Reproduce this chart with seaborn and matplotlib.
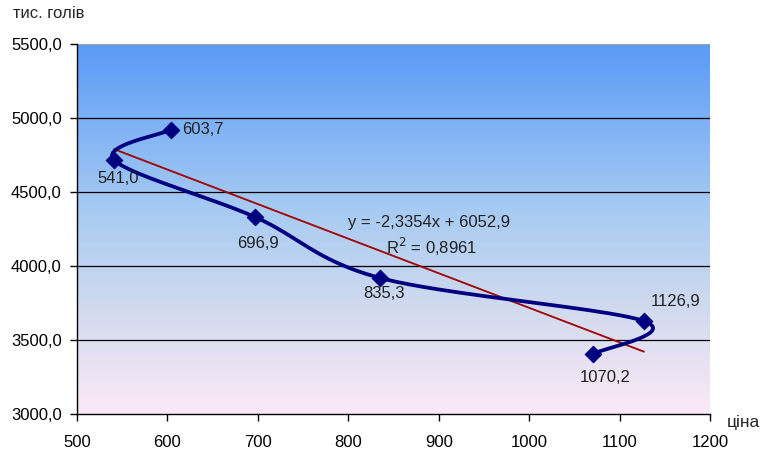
import numpy as np
import pandas as pd
import matplotlib
matplotlib.use("Agg")
import matplotlib.pyplot as plt
import seaborn as sns
from matplotlib.colors import LinearSegmentedColormap
from matplotlib.ticker import FuncFormatter, MultipleLocator

# ---- data ----
price = [603.7, 541.0, 696.9, 835.3, 1126.9, 1070.2]
herd = [4920.0, 4716.0, 4331.0, 3919.0, 3628.0, 3405.0]
point_labels = ["603,7", "541,0", "696,9", "835,3", "1126,9", "1070,2"]
trend_slope = -2.3354
trend_intercept = 6052.9
trend_r2 = 0.8961
y_label = "тис. голів"
x_label = "ціна"

df = pd.DataFrame({"price": price, "herd": herd, "label": point_labels})

sns.set_theme(style="white")
plt.rcParams["font.family"] = ["Liberation Sans", "DejaVu Sans"]
FS = 12

fig = plt.figure(figsize=(7.65, 4.55), dpi=100)
ax = fig.add_axes([77 / 765, 1 - 414 / 455, (710 - 77) / 765, (414 - 44) / 455])

ax.set_xlim(500, 1200)
ax.set_ylim(3000, 5500)

# gradient background
cmap = LinearSegmentedColormap.from_list(
    "bg", [(0.0, "#FCE9F7"), (0.25, "#D6DCEE"), (0.55, "#A7CBF2"), (1.0, "#5A9BF6")])
grad = np.linspace(0, 1, 256).reshape(-1, 1)
ax.imshow(grad, aspect="auto", cmap=cmap, origin="lower",
          extent=[500, 1200, 3000, 5500], zorder=0)

# grid lines
for yv in [3500, 4000, 4500, 5000]:
    ax.axhline(yv, color="black", lw=0.9, zorder=1)
ax.axhline(5500, color="#9aa4b0", lw=0.9, zorder=1)


# smooth line (Excel-like Catmull-Rom Bezier)
def smooth(xs, ys, n=40):
    P = np.column_stack([xs, ys]).astype(float)
    sx, sy = 633 / 700, 370 / 2500
    Q = P * np.array([sx, sy])
    out = []
    for i in range(len(Q) - 1):
        p0 = Q[i - 1] if i > 0 else Q[i]
        p1, p2 = Q[i], Q[i + 1]
        p3 = Q[i + 2] if i + 2 < len(Q) else Q[i + 1]
        c1 = p1 + (p2 - p0) / 6
        c2 = p2 - (p3 - p1) / 6
        t = np.linspace(0, 1, n)[:, None]
        seg = (1 - t) ** 3 * p1 + 3 * (1 - t) ** 2 * t * c1 + 3 * (1 - t) * t ** 2 * c2 + t ** 3 * p2
        out.append(seg if i == 0 else seg[1:])
    R = np.vstack(out) / np.array([sx, sy])
    return R[:, 0], R[:, 1]


sxv, syv = smooth(df["price"].values, df["herd"].values)
ax.plot(sxv, syv, color="#000080", lw=2.7, zorder=3, solid_capstyle="round")
sns.scatterplot(data=df, x="price", y="herd", marker="D", s=72, color="#000080",
                edgecolor="#000080", ax=ax, zorder=4, legend=False)

# trend line
tx = np.array([min(price), max(price)])
ax.plot(tx, trend_slope * tx + trend_intercept, color="#A00000", lw=1.3, zorder=2)

# point labels (offsets in points)
offsets = [(8, 0), (-12, -13), (-13, -19), (-12, -11), (5, 14), (-9, -17)]
for (px, py, lab), (dx, dy) in zip(zip(price, herd, point_labels), offsets):
    ax.annotate(lab, (px, py), xytext=(dx, dy), textcoords="offset points",
                ha="left", va="center", fontsize=FS, color="#222222", zorder=5)

# equation
eq = "y = " + f"{trend_slope:.4f}".replace(".", ",") + "x + " + f"{trend_intercept:.1f}".replace(".", ",")
fig.text(348 / 765, 1 - 222 / 455, eq, fontsize=FS, color="#222222", va="center")
fig.text(386 / 765, 1 - 247 / 455, "R$^2$ = " + f"{trend_r2:.4f}".replace(".", ","),
         fontsize=FS, color="#222222", va="center")

# axes styling
for s in ["top", "right"]:
    ax.spines[s].set_visible(False)
for s in ["left", "bottom"]:
    ax.spines[s].set_color("black")
    ax.spines[s].set_linewidth(1.0)
ax.xaxis.set_major_locator(MultipleLocator(100))
ax.yaxis.set_major_locator(MultipleLocator(500))
ax.yaxis.set_major_formatter(FuncFormatter(lambda v, p: f"{v:.1f}".replace(".", ",")))
ax.tick_params(axis="both", direction="out", length=5, width=1, color="black",
               labelsize=FS, labelcolor="black", bottom=True, left=True)
ax.tick_params(axis="x", pad=10)
ax.tick_params(axis="y", pad=6)
ax.set_xlabel("")
ax.set_ylabel("")
fig.text(13 / 765, 1 - 14 / 455, y_label, fontsize=FS, va="center", ha="left")
fig.text(727 / 765, 1 - 423 / 455, x_label, fontsize=12.5, va="center", ha="left")

fig.savefig("out.png", dpi=100)
